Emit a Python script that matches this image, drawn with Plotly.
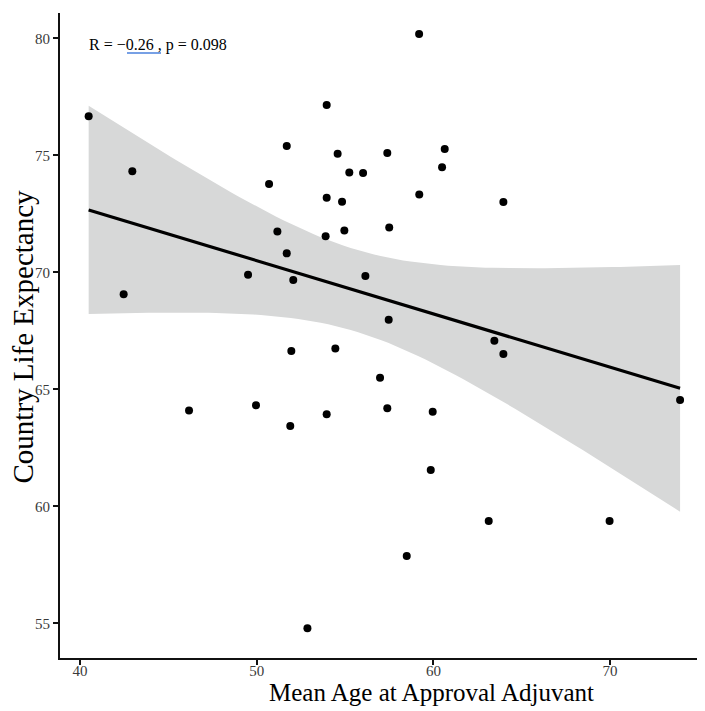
import numpy as np
import plotly.graph_objects as go

# Data
mean_age = [40.49, 42.96, 42.47, 46.17, 49.51, 49.96, 50.70, 51.17, 51.70, 51.70,
            52.07, 51.96, 51.90, 52.87, 53.96, 53.96, 53.90, 53.96, 54.58, 54.83,
            54.96, 54.45, 55.24, 56.02, 56.15, 56.98, 57.39, 57.50, 57.47, 57.39,
            58.49, 59.20, 59.96, 59.85, 60.64, 60.49, 63.96, 63.45, 63.96, 63.13,
            69.97, 73.96, 59.19]
life_exp = [76.67, 74.32, 69.06, 64.10, 69.90, 64.32, 73.77, 71.74, 75.40, 70.81,
            69.67, 66.64, 63.43, 54.79, 77.15, 73.19, 71.54, 63.93, 75.07, 73.02,
            71.79, 66.74, 74.26, 74.24, 69.84, 65.50, 75.10, 71.92, 67.97, 64.19,
            57.88, 73.33, 64.04, 61.55, 75.27, 74.49, 73.00, 67.08, 66.51, 59.37,
            59.37, 64.54, 80.18]

x_ticks = [40, 50, 60, 70]
y_ticks = [55, 60, 65, 70, 75, 80]
annotation_text = "R = \u22120.26 , p = 0.098"

# Linear fit with 95% confidence band (as geom_smooth(method="lm"))
x = np.array(mean_age)
y = np.array(life_exp)
n = len(x)
b1, b0 = np.polyfit(x, y, 1)
resid = y - (b0 + b1 * x)
s = np.sqrt(np.sum(resid ** 2) / (n - 2))
xbar = x.mean()
sxx = np.sum((x - xbar) ** 2)
t_crit = 2.0195
xs = np.linspace(x.min(), x.max(), 80)
fit = b0 + b1 * xs
se = s * np.sqrt(1.0 / n + (xs - xbar) ** 2 / sxx)
upper = fit + t_crit * se
lower = fit - t_crit * se

fig = go.Figure()
fig.add_trace(go.Scatter(
    x=np.concatenate([xs, xs[::-1]]),
    y=np.concatenate([upper, lower[::-1]]),
    fill="toself", fillcolor="rgb(215,216,216)",
    line=dict(width=0), mode="lines", hoverinfo="skip", showlegend=False))
fig.add_trace(go.Scatter(
    x=mean_age, y=life_exp, mode="markers",
    marker=dict(color="black", size=8), showlegend=False))
fig.add_trace(go.Scatter(
    x=xs, y=fit, mode="lines",
    line=dict(color="black", width=3.2), showlegend=False))

axis_common = dict(
    showgrid=False, zeroline=False, showline=True, linecolor="#111111",
    linewidth=2, ticks="outside", ticklen=5, tickwidth=2, tickcolor="#111111",
    tickfont=dict(family="Liberation Serif", size=15, color="#3a3a3a"))

fig.update_xaxes(range=[38.868, 75.37], tickvals=x_ticks,
                 ticklabelstandoff=-7, **axis_common)
fig.update_yaxes(range=[53.52, 81.08], tickvals=y_ticks, **axis_common)

fig.add_annotation(
    text=annotation_text, xref="paper", yref="paper",
    x=(87 - 60) / 645, y=(658 - 45) / 645, xanchor="left", yanchor="middle",
    showarrow=False, font=dict(family="Liberation Serif", size=16, color="black"))
fig.add_shape(type="line", xref="paper", yref="paper",
              x0=(127 - 60) / 645, x1=(161 - 60) / 645,
              y0=(658 - 53) / 645, y1=(658 - 53) / 645,
              line=dict(color="#4a80dc", width=1.5))

# Axis titles
fig.add_annotation(
    text="Mean Age at Approval Adjuvant", xref="paper", yref="paper",
    x=(431 - 60) / 645, y=(658 - 692) / 645, xanchor="center", yanchor="middle",
    showarrow=False, font=dict(family="Liberation Serif", size=25, color="black"))
fig.add_annotation(
    text="Country Life Expectancy", xref="paper", yref="paper",
    x=(22.5 - 60) / 645, y=(658 - 337) / 645, xanchor="center", yanchor="middle",
    textangle=-90, showarrow=False,
    font=dict(family="Liberation Serif", size=29, color="black"))

# Margins compensate for the 8px page body margin
fig.update_layout(
    width=705, height=711,
    margin=dict(l=52, r=8, t=5, b=61),
    paper_bgcolor="white", plot_bgcolor="white")

fig.write_html("out.html")
